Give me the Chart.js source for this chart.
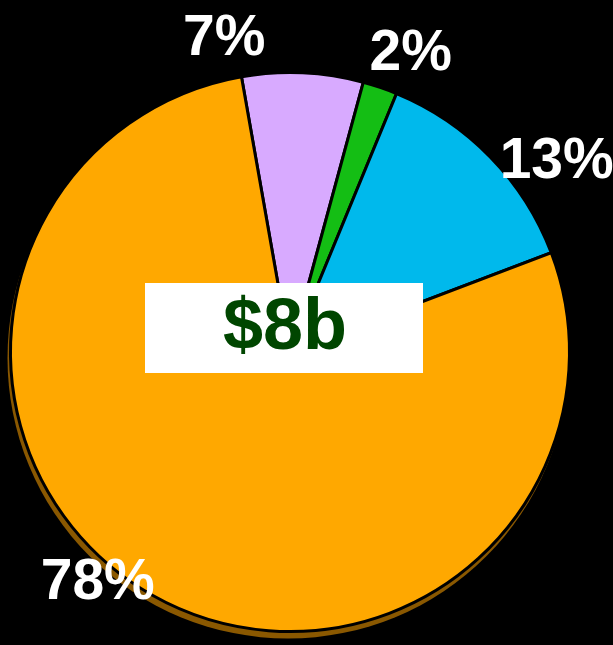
<!DOCTYPE html>
<html>
<head>
<meta charset="utf-8">
<script src="https://cdn.jsdelivr.net/npm/chart.js@4/dist/chart.umd.min.js"></script>
<style>
  html, body { margin: 0; padding: 0; background: #000; }
  canvas { display: block; }
</style>
</head>
<body>
<canvas id="pieChart" width="613" height="645"></canvas>
<script>
// slice data, clockwise from the top
const categories = ['Purple', 'Green', 'Blue', 'Orange'];
const shares = [7, 2, 13, 78];
const sliceLabels = ['7%', '2%', '13%', '78%'];
const totalLabel = '$8b';

const sliceColors = ['#d8aaff', '#14be14', '#00b9ec', '#ffa800'];

// where each percent label sits: angle turn (deg) from slice middle, distance as radius factor
const labelLayout = [
  { turn: -14.4, dist: 1.15 },
  { turn: 3.1, dist: 1.157 },
  { turn: 8.5, dist: 1.175 },
  { turn: 10.4, dist: 1.07 }
];

const shadowPlugin = {
  id: 'pieShadow',
  beforeDatasetsDraw(chart) {
    const arc = chart.getDatasetMeta(0).data[0];
    if (!arc) return;
    const { x, y, outerRadius } = arc.getProps(['x', 'y', 'outerRadius'], true);
    const ctx = chart.ctx;
    ctx.save();
    ctx.fillStyle = '#8a5800';
    ctx.beginPath();
    ctx.arc(x - 2, y + 6, outerRadius + 1, 0, Math.PI * 2);
    ctx.fill();
    ctx.restore();
  }
};

const labelPlugin = {
  id: 'pieLabels',
  afterDatasetsDraw(chart) {
    const ctx = chart.ctx;
    const arcs = chart.getDatasetMeta(0).data;
    ctx.save();
    ctx.fillStyle = '#fff';
    ctx.font = 'bold 57px "Liberation Sans", Arial, sans-serif';
    ctx.textAlign = 'center';
    ctx.textBaseline = 'middle';
    arcs.forEach((arc, i) => {
      const p = arc.getProps(['x', 'y', 'startAngle', 'endAngle', 'outerRadius'], true);
      const a = (p.startAngle + p.endAngle) / 2 + labelLayout[i].turn * Math.PI / 180;
      const r = p.outerRadius * labelLayout[i].dist;
      ctx.fillText(sliceLabels[i], p.x + Math.cos(a) * r, p.y + Math.sin(a) * r + 2);
    });

    // total box in the middle
    const c = arcs[0].getProps(['x', 'y'], true);
    const bx = c.x - 145, by = c.y - 69;
    ctx.fillStyle = '#fff';
    ctx.fillRect(bx, by, 278, 90);
    ctx.fillStyle = '#004600';
    ctx.font = 'bold 72px "Liberation Sans", Arial, sans-serif';
    ctx.fillText(totalLabel, bx + 140, by + 46);
    ctx.restore();
  }
};

new Chart(document.getElementById('pieChart'), {
  type: 'pie',
  data: {
    labels: categories,
    datasets: [{
      data: shares,
      backgroundColor: sliceColors,
      borderColor: '#000',
      borderWidth: 3,
      borderJoinStyle: 'miter'
    }]
  },
  options: {
    responsive: false,
    animation: false,
    rotation: -10,
    layout: { padding: { top: 71, bottom: 12, left: 9, right: 42 } },
    plugins: {
      legend: { display: false },
      tooltip: { enabled: false }
    }
  },
  plugins: [shadowPlugin, labelPlugin]
});
</script>
</body>
</html>
